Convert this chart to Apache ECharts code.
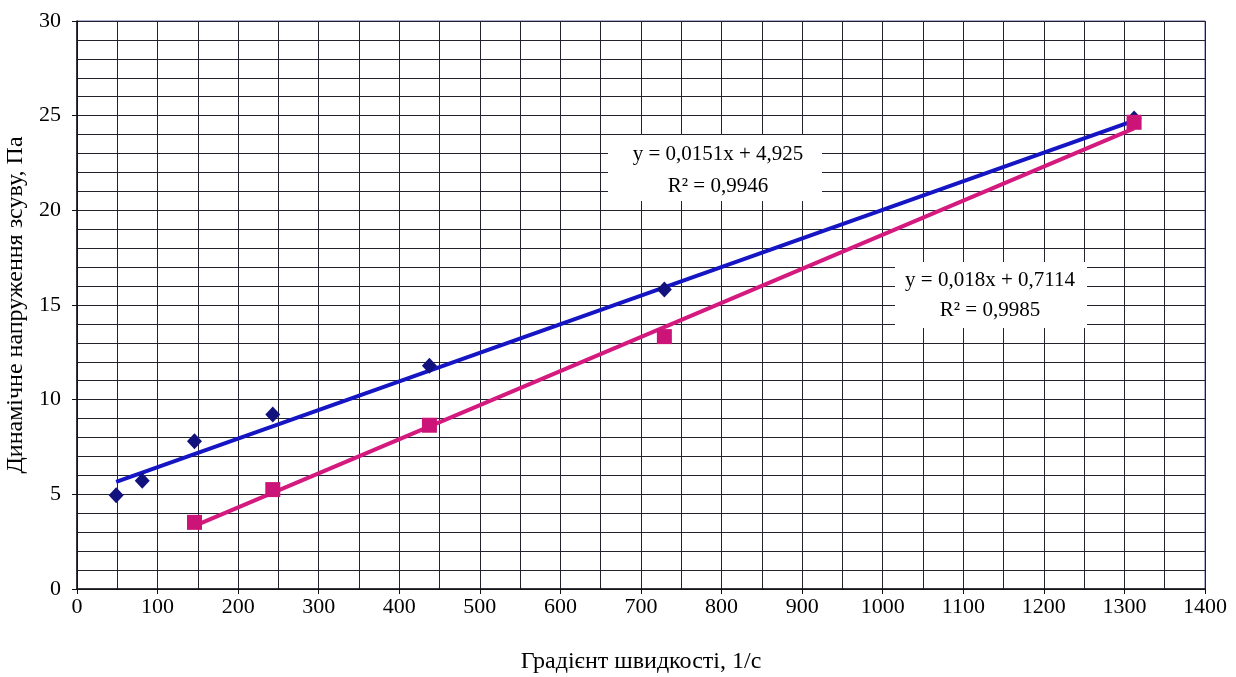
<!DOCTYPE html>
<html>
<head>
<meta charset="utf-8">
<script src="https://cdn.jsdelivr.net/npm/echarts@6/dist/echarts.min.js"></script>
<style>html,body{margin:0;padding:0;background:#fff}#c{width:1236px;height:677px}</style>
</head>
<body>
<div id="c"></div>
<script>
// Data
const xBlue = [48.6, 81, 145.8, 243, 437.4, 729, 1312];
const yBlue = [4.95, 5.72, 7.8, 9.21, 11.79, 15.82, 24.85];
const xPink = [145.8, 243, 437.4, 729, 1312];
const yPink = [3.52, 5.25, 8.65, 13.33, 24.65];
// Trendline coefficients (slope, intercept) as shown on the chart
const trendBlue = [0.0151, 4.925];
const trendPink = [0.018, 0.7114];
const labelBlue = ['y = 0,0151x + 4,925', 'R² = 0,9946'];
const labelPink = ['y = 0,018x + 0,7114', 'R² = 0,9985'];
const xTitle = 'Градієнт швидкості, 1/с';
const yTitle = 'Динамічне напруження зсуву, Па';

const pts = (xs, ys) => xs.map((x, i) => [x, ys[i]]);
const trend = (xs, c) => {
  const a = Math.min(...xs), b = Math.max(...xs);
  return [[a, c[0] * a + c[1]], [b, c[0] * b + c[1]]];
};

const FONT = '"Liberation Serif", "DejaVu Serif", serif';
const gridColor = '#22222e';

const chart = echarts.init(document.getElementById('c'), null, {renderer: 'canvas'});
chart.setOption({
  backgroundColor: '#fff',
  animation: false,
  grid: {left: 77, right: 31, top: 21, bottom: 88, containLabel: false,
         outerBoundsMode: 'none',
         show: true, borderColor: '#5a5aa0', borderWidth: 1},
  xAxis: {
    type: 'value', min: 0, max: 1400, interval: 100,
    name: xTitle, nameLocation: 'middle', nameGap: 61,
    nameTextStyle: {fontFamily: FONT, fontSize: 24, color: '#000'},
    axisLine: {show: true, lineStyle: {color: '#111', width: 1.5}},
    axisTick: {show: true, length: 5, inside: false, lineStyle: {color: '#111'}},
    axisLabel: {fontFamily: FONT, fontSize: 22, color: '#000', margin: 7,
                formatter: v => String(v)},
    splitLine: {show: true, lineStyle: {color: gridColor, width: 1}},
    minorTick: {show: false, splitNumber: 2},
    minorSplitLine: {show: true, lineStyle: {color: gridColor, width: 1}}
  },
  yAxis: {
    type: 'value', min: 0, max: 30, interval: 5,
    name: yTitle, nameLocation: 'middle', nameGap: 43, nameRotate: 90,
    nameTextStyle: {fontFamily: FONT, fontSize: 24, color: '#000'},
    axisLine: {show: true, lineStyle: {color: '#111', width: 1.5}},
    axisTick: {show: true, length: 5, inside: false, lineStyle: {color: '#111'}},
    axisLabel: {fontFamily: FONT, fontSize: 22, color: '#000', margin: 16,
                formatter: v => String(v)},
    splitLine: {show: true, lineStyle: {color: gridColor, width: 1}},
    minorTick: {show: false, splitNumber: 5},
    minorSplitLine: {show: true, lineStyle: {color: gridColor, width: 1}}
  },
  series: [
    {
      type: 'line', data: trend(xBlue, trendBlue), showSymbol: false, symbol: 'none',
      lineStyle: {color: '#1515c4', width: 4}, z: 3
    },
    {
      type: 'line', data: trend(xPink, trendPink), showSymbol: false, symbol: 'none',
      lineStyle: {color: '#d4197f', width: 4}, z: 3
    },
    {
      type: 'scatter', data: pts(xBlue, yBlue), symbol: 'diamond', symbolSize: [15, 16],
      itemStyle: {color: '#12127e', opacity: 1}, z: 4
    },
    {
      type: 'scatter', data: pts(xPink, yPink), symbol: 'rect', symbolSize: 15,
      itemStyle: {color: '#cc1378', opacity: 1}, z: 5
    }
  ],
  graphic: [
    {
      type: 'rect', shape: {x: 608, y: 135, width: 214, height: 66},
      style: {fill: '#fff'}, z: 10
    },
    {
      type: 'text', x: 718, y: 154, z: 11,
      style: {text: labelBlue[0], font: '21px ' + FONT, fill: '#000', align: 'center', verticalAlign: 'middle'}
    },
    {
      type: 'text', x: 718, y: 186, z: 11,
      style: {text: labelBlue[1], font: '21px ' + FONT, fill: '#000', align: 'center', verticalAlign: 'middle'}
    },
    {
      type: 'rect', shape: {x: 895, y: 262, width: 192, height: 66},
      style: {fill: '#fff'}, z: 10
    },
    {
      type: 'text', x: 990, y: 280, z: 11,
      style: {text: labelPink[0], font: '21px ' + FONT, fill: '#000', align: 'center', verticalAlign: 'middle'}
    },
    {
      type: 'text', x: 990, y: 310, z: 11,
      style: {text: labelPink[1], font: '21px ' + FONT, fill: '#000', align: 'center', verticalAlign: 'middle'}
    }
  ]
});
</script>
</body>
</html>
